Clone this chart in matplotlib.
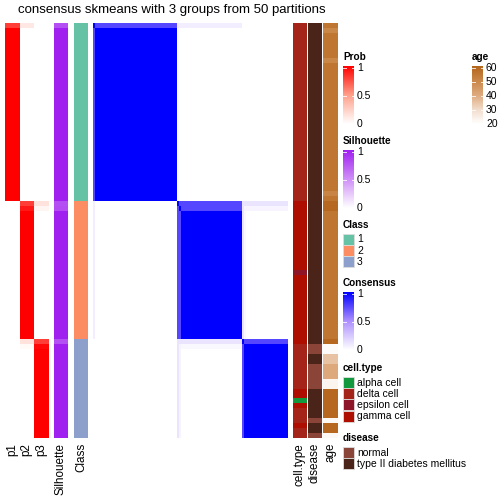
import numpy as np
import matplotlib
matplotlib.use('Agg')
import matplotlib.pyplot as plt
from matplotlib.colors import LinearSegmentedColormap, to_rgb
from matplotlib.patches import Rectangle

plt.rcParams['font.family'] = ['Liberation Sans', 'DejaVu Sans']

# values, top row first, as (value, number of rows)
class_runs = [(1, 36), (2, 28), (3, 20)]
p1_runs = [(0.8, 1), (1.0, 35), (0.0, 48)]
p2_runs = [(0.12, 1), (0.0, 35), (0.8, 1), (0.92, 1), (1.0, 26), (0.15, 1), (0.03, 1), (0.0, 18)]
p3_runs = [(0.0, 36), (0.15, 1), (0.05, 1), (0.0, 26), (0.8, 1), (0.97, 1), (1.0, 18)]
silhouette_runs = [(0.78, 1), (1.0, 35), (0.78, 1), (0.8, 1), (1.0, 26), (0.78, 1), (1.0, 19)]
cell_type_runs = [('delta cell', 36), ('gamma cell', 14), ('epsilon cell', 1), ('gamma cell', 14),
                  ('delta cell', 9), ('gamma cell', 2), ('alpha cell', 1), ('gamma cell', 1),
                  ('delta cell', 3), ('gamma cell', 1), ('delta cell', 2)]
disease_runs = [('type II diabetes mellitus', 65), ('normal', 2), ('type II diabetes mellitus', 2),
                ('normal', 5), ('type II diabetes mellitus', 6), ('normal', 1),
                ('type II diabetes mellitus', 2), ('normal', 1)]
age_runs = [(55, 1), (50, 1), (55, 5), (50, 1), (55, 26), (51, 1), (55, 1), (59, 2), (55, 26),
            (59, 1), (21, 2), (35, 2), (40, 3), (23, 2), (59, 6), (22, 1), (59, 2), (22, 1)]

# consensus of the unsure samples: (sample, with own class, other class, with other class)
consensus_unsure = [(65, 1.0, 2, 0.03), (0, 0.75, 2, 0.08), (36, 0.75, 3, 0.12),
                    (37, 0.75, 3, 0.05), (64, 0.75, 2, 0.12)]

class_colors = {1: '#66C2A5', 2: '#FC8D62', 3: '#8DA0CB'}
cell_type_colors = {'alpha cell': '#12993D', 'delta cell': '#A4241A',
                    'epsilon cell': '#8E1428', 'gamma cell': '#AE0E00'}
disease_colors = {'normal': '#8B4538', 'type II diabetes mellitus': '#4A2419'}

prob_cmap = LinearSegmentedColormap.from_list('prob', ['white', '#FF9F8A', 'red'])
sil_cmap = LinearSegmentedColormap.from_list('sil', ['white', '#A020F0'])
cons_cmap = LinearSegmentedColormap.from_list('cons', ['white', '#AE90FF', 'blue'])
age_cmap = LinearSegmentedColormap.from_list(
    'age', [(0, 'white'), (0.25, '#F2DCCB'), (0.5, '#DEA97D'), (0.75, '#CA8849'), (1, '#B4651C')])


def expand(runs):
    out = []
    for v, n in runs:
        out += [v] * n
    return out


cls = np.array(expand(class_runs))
cons = (cls[:, None] == cls[None, :]).astype(float)
for s, own, other, val in consensus_unsure:
    same = cls == cls[s]
    cons[s, same] = own
    cons[same, s] = own
    oth = cls == other
    cons[s, oth] = val
    cons[oth, s] = val
np.fill_diagonal(cons, 1)

W = H = 504
fig = plt.figure(figsize=(W / 100, H / 100), dpi=100)
TOP, BOT = 23, 438


def px_axes(x0, x1, y0=TOP, y1=BOT):
    ax = fig.add_axes([x0 / W, 1 - y1 / H, (x1 - x0) / W, (y1 - y0) / H])
    ax.set_axis_off()
    return ax


def column(x0, x1, rgb, label):
    ax = px_axes(x0, x1)
    ax.imshow(np.array(rgb)[:, None, :], aspect='auto', interpolation='nearest')
    fig.text((x0 + x1) / 2 / W, 1 - 443 / H, label, rotation=90, ha='center', va='top', fontsize=8.4)


column(5, 19.5, prob_cmap(expand(p1_runs))[:, :3], 'p1')
column(19.5, 34, prob_cmap(expand(p2_runs))[:, :3], 'p2')
column(34, 48.5, prob_cmap(expand(p3_runs))[:, :3], 'p3')
column(54, 68, sil_cmap(expand(silhouette_runs))[:, :3], 'Silhouette')
column(74, 88, [to_rgb(class_colors[c]) for c in cls], 'Class')

hax = px_axes(93, 287.5)
hax.imshow(cons, cmap=cons_cmap, vmin=0, vmax=1, aspect='auto', interpolation='nearest')

column(293, 307, [to_rgb(cell_type_colors[c]) for c in expand(cell_type_runs)], 'cell.type')
column(308, 322, [to_rgb(disease_colors[c]) for c in expand(disease_runs)], 'disease')
column(323, 337.5, age_cmap((np.array(expand(age_runs)) - 20) / 40)[:, :3], 'age')

fig.text(172 / W, 1 - 10 / H, 'consensus skmeans with 3 groups from 50 partitions',
         ha='center', va='center', fontsize=9.5)

# legends, drawn in pixel units
lax = fig.add_axes([0, 0, 1, 1])
lax.set_axis_off()


def colorbar(x, top, title, cmap, labels, positions):
    lax.text(x, top - 9, title, fontsize=7.2, fontweight='bold', va='center', ha='left')
    lax.imshow(np.linspace(1, 0, 200)[:, None], cmap=cmap, vmin=0, vmax=1, aspect='auto',
               extent=(x, x + 11, top + 58, top))
    for lab, p in zip(labels, positions):
        y = top + 2 + (1 - p) * 56
        lax.plot([x, x + 2.5], [y, y], color='white', lw=0.7, alpha=0.8)
        lax.plot([x + 8.5, x + 11], [y, y], color='white', lw=0.7, alpha=0.8)
        lax.text(x + 14, y, lab, fontsize=7.5, va='center', ha='left')


def boxes(x, top, title, names, colors):
    lax.text(x, top - 9, title, fontsize=7.2, fontweight='bold', va='center', ha='left')
    for i, (nm, col) in enumerate(zip(names, colors)):
        y = top + i * 11.2
        lax.add_patch(Rectangle((x, y), 11, 11, facecolor=col, edgecolor='#DDDDDD', lw=0.6))
        lax.text(x + 14, y + 5.5, nm, fontsize=7.5, va='center', ha='left')


colorbar(343, 66, 'Prob', prob_cmap, ['1', '0.5', '0'], [1, 0.5, 0])
colorbar(472, 66, 'age', age_cmap, ['60', '50', '40', '30', '20'], [1, 0.75, 0.5, 0.25, 0])
colorbar(343, 150, 'Silhouette', sil_cmap, ['1', '0.5', '0'], [1, 0.5, 0])
boxes(343, 234, 'Class', ['1', '2', '3'], [class_colors[c] for c in (1, 2, 3)])
colorbar(343, 292, 'Consensus', cons_cmap, ['1', '0.5', '0'], [1, 0.5, 0])
boxes(343, 377, 'cell.type', list(cell_type_colors), list(cell_type_colors.values()))
boxes(343, 447, 'disease', list(disease_colors), list(disease_colors.values()))

lax.set_xlim(0, W)
lax.set_ylim(H, 0)

fig.savefig('out.png', dpi=100)
